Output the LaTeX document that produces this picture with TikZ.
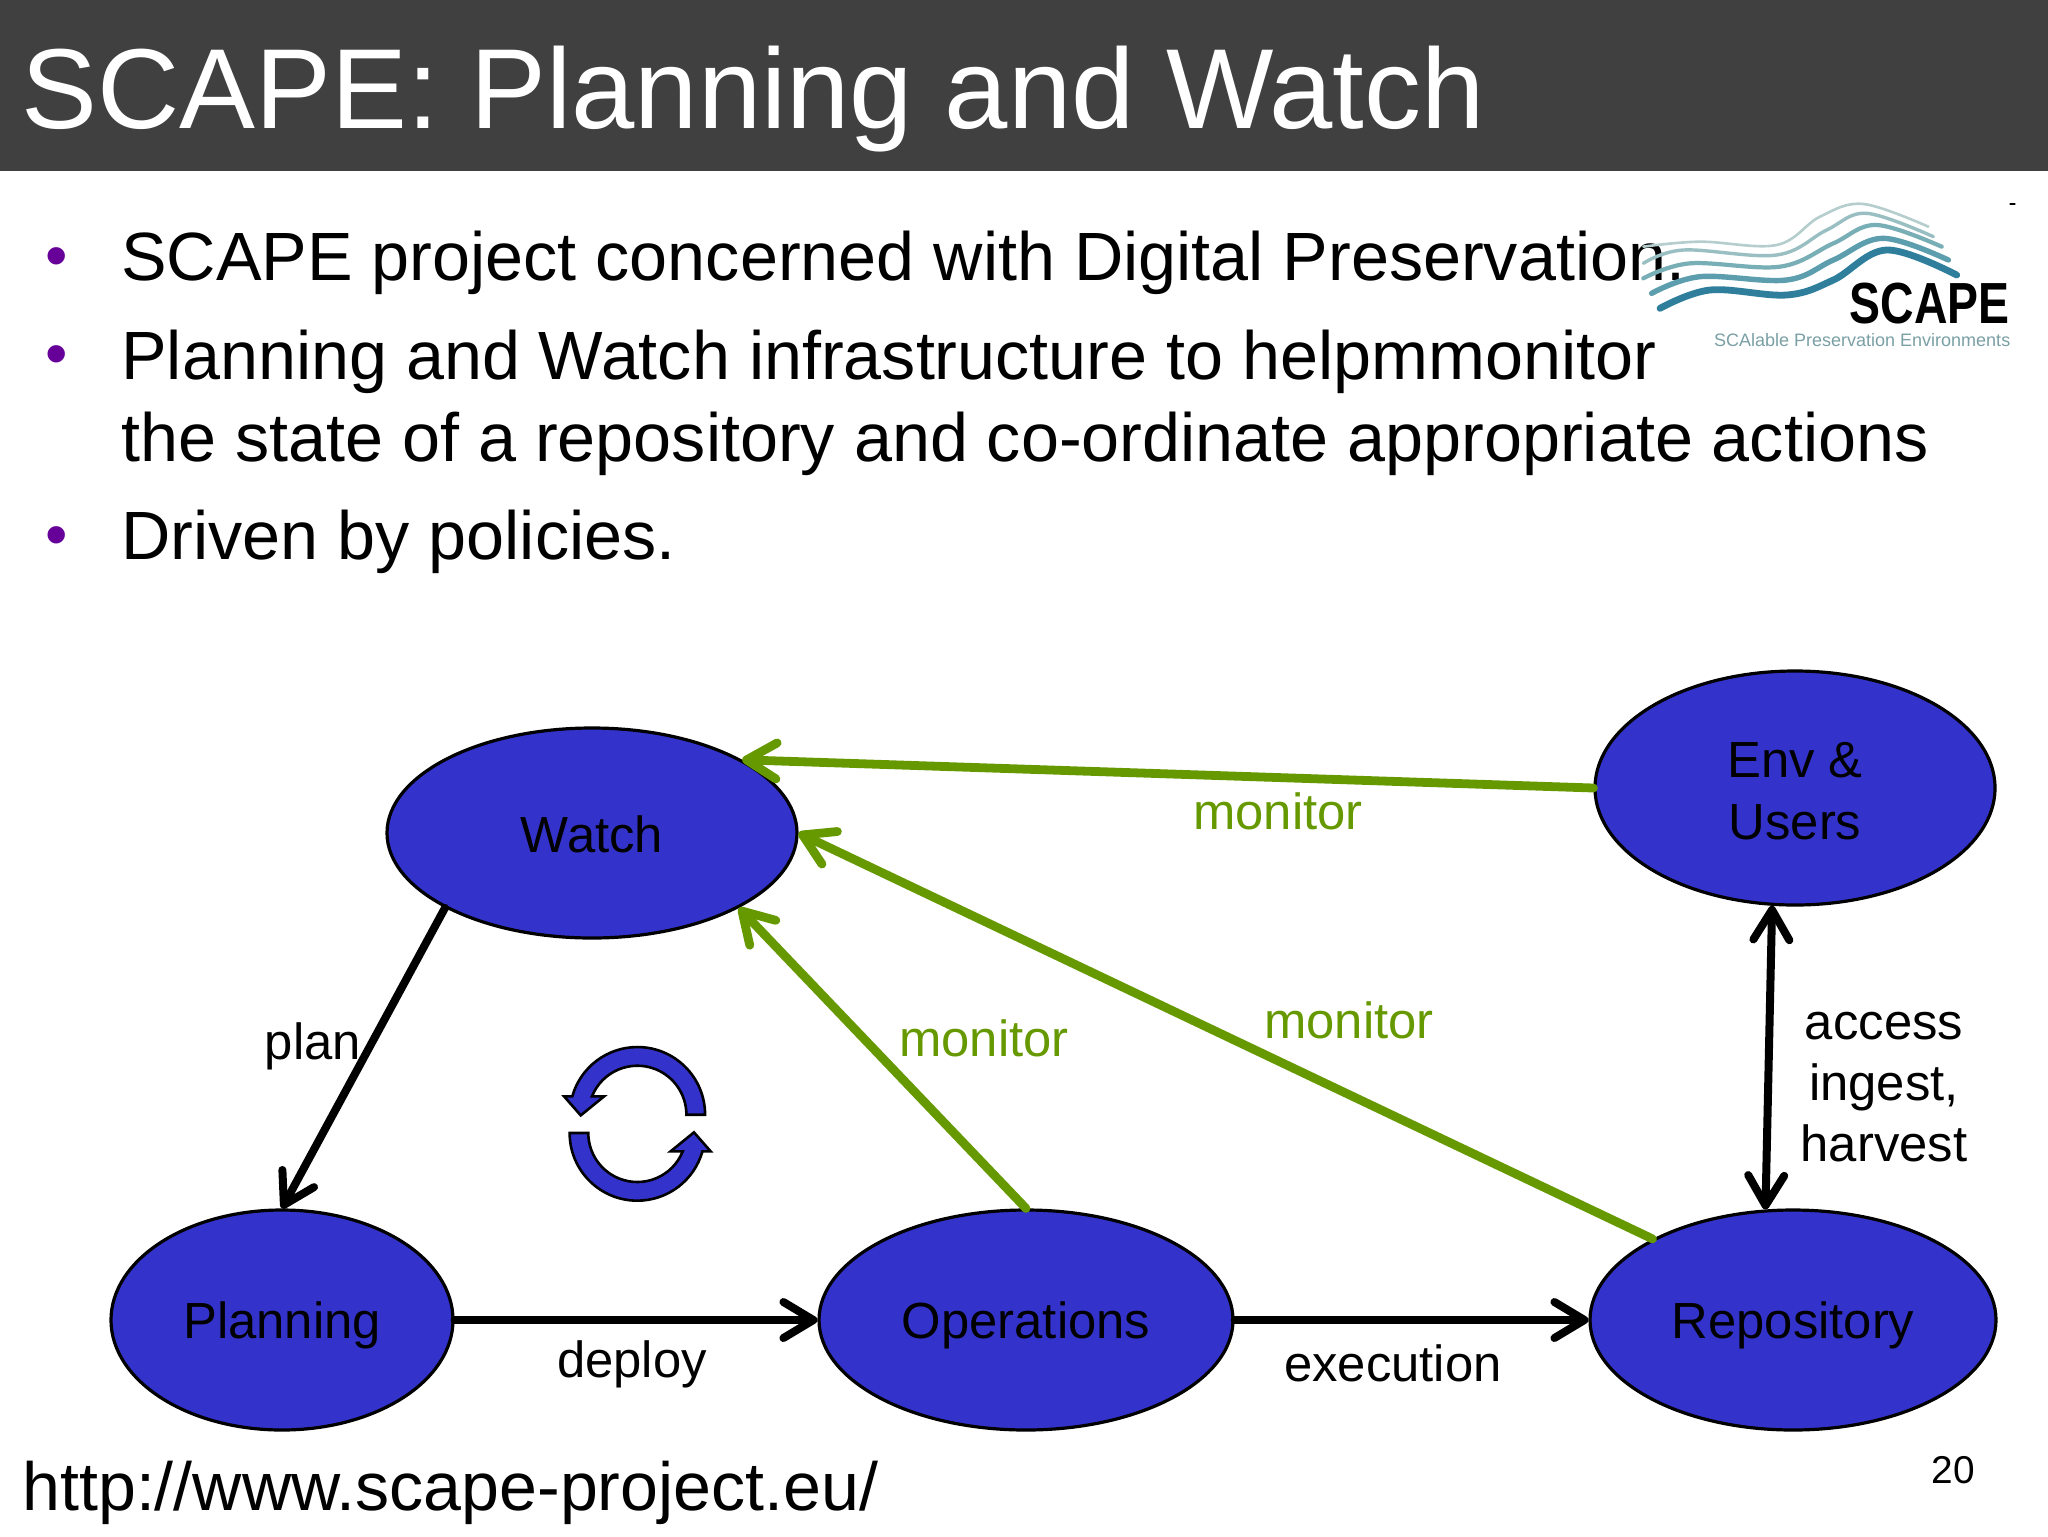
\documentclass[tikz,border=0pt]{standalone}
\usepackage{fontspec}
\setmainfont{Liberation Sans}
\usetikzlibrary{shapes.geometric,arrows.meta}
\definecolor{barcol}{HTML}{404040}
\definecolor{blobcol}{HTML}{3333CC}
\definecolor{greencol}{HTML}{669900}
\definecolor{bulletcol}{HTML}{660099}
\definecolor{wavea}{HTML}{2F7F9C}
\definecolor{waveb}{HTML}{5C9DAE}
\definecolor{wavec}{HTML}{78AEB5}
\definecolor{waved}{HTML}{9ABFC2}
\definecolor{wavee}{HTML}{B5CDCD}
\tikzset{
  barb/.tip={Straight Barb[length=15pt,width=18pt,round]},
  blob/.style={ellipse,draw=black,line width=1.6pt,fill=blobcol,inner sep=0pt,align=center,font=\fontsize{25.4}{30.7}\selectfont},
  bodytext/.style={anchor=base west,inner sep=0pt,font=\fontsize{34.15}{41}\selectfont},
  bulletdot/.style={anchor=center,inner sep=0pt,text=bulletcol,font=\fontsize{32}{36}\selectfont},
  blacklink/.style={line width=4pt,draw=black,line cap=round},
  greenlink/.style={line width=4.4pt,draw=greencol,line cap=round},
  lab/.style={anchor=center,inner sep=0pt,align=center,font=\fontsize{25.4}{30.7}\selectfont},
  greenlab/.style={lab,text=greencol},
  arrowshape/.style={draw=black,line width=1.3pt,fill=blobcol,line join=miter},
}
\begin{document}
\begin{tikzpicture}[x=0.5pt,y=-0.5pt]
\useasboundingbox (0,0) rectangle (2048,1536);
\fill[white] (0,0) rectangle (2048,1536);
\fill[barcol] (0,0) rectangle (2048,171);
\node[anchor=base west,inner sep=0pt,text=white,font=\fontsize{56.9}{60}\selectfont] (title) at (21,128) {SCAPE: Planning and Watch};

% bullets
\node[bulletdot] (b1) at (57,263) {•};
\node[bulletdot] (b2) at (57,361) {•};
\node[bulletdot] (b3) at (57,542) {•};
\node[bodytext] (t1) at (121,280) {SCAPE project concerned with Digital Preservation.};
\node[bodytext] (t2) at (121,379) {Planning and Watch infrastructure to helpmmonitor};
\node[bodytext] (t3) at (121,461) {the state of a repository and co-ordinate appropriate actions};
\node[bodytext] (t4) at (121,559) {Driven by policies.};

% logo
\begin{scope}[shift={(1600,180)},x=0.16667pt,y=-0.16667pt,line cap=round]
\draw[wavee,line width=1.3pt] plot[smooth,tension=.6] coordinates {(130,200)(300,185)(530,195)(660,110)(790,72)(985,140)};
\draw[waved,line width=1.7pt] plot[smooth,tension=.6] coordinates {(130,250)(250,210)(530,225)(680,150)(800,100)(1000,170)};
\draw[wavec,line width=2.1pt] plot[smooth,tension=.6] coordinates {(130,295)(270,250)(540,260)(700,190)(830,135)(1025,200)};
\draw[waveb,line width=2.7pt] plot[smooth,tension=.6] coordinates {(155,340)(300,290)(560,300)(700,240)(850,175)(1045,240)};
\draw[wavea,line width=3.4pt] plot[smooth,tension=.6] coordinates {(180,385)(330,330)(560,345)(700,300)(860,210)(1070,285)};
\draw[black,line width=.6pt] (1230,72) -- (1245,72);
\node[anchor=base east,inner sep=0pt,xscale=.8,font=\bfseries\fontsize{29}{29}\selectfont] (logoname) at (1230,430) {SCAPE};
\node[anchor=base east,inner sep=0pt,text=wavec!70!gray,font=\fontsize{9}{10}\selectfont] (logosub) at (1232,500) {SCAlable Preservation Environments};
\end{scope}

% nodes
\node[blob,minimum width=205pt,minimum height=105pt] (watch) at (592,833) {\rule{0pt}{19.4pt}Watch};
\node[blob,minimum width=200pt,minimum height=117pt] (env) at (1795,788) {\rule{0pt}{20.6pt}Env \&\\Users};
\node[blob,text depth=0pt,minimum width=171pt,minimum height=110pt] (planning) at (282,1320) {Planning};
\node[blob,text depth=0pt,minimum width=207pt,minimum height=110pt] (operations) at (1026,1320) {Operations};
\node[blob,text depth=0pt,minimum width=203pt,minimum height=110pt] (repository) at (1793,1320) {Repository};

% connectors
\draw[blacklink,-{barb}] (watch.207.6) -- (planning.north);
\draw[blacklink,-{barb}] (planning.east) -- (operations.west);
\draw[blacklink,-{barb}] (operations.east) -- (repository.west);
\draw[blacklink,{barb}-{barb}] (env.259) -- (repository.104.2);
\draw[greenlink,-{barb}] (env.west) -- (watch.26.8);
\draw[greenlink,-{barb}] (operations.north) -- (watch.-27.6);
\draw[greenlink,-{barb}] (repository.150.4) -- (watch.east);

% labels
\node[greenlab] (m1) at (1278,811) {monitor};
\node[greenlab] (m2) at (984,1038) {monitor};
\node[greenlab] (m3) at (1349,1020) {monitor};
\node[lab] (plan) at (313,1046) {plan};
\node[lab] (deploy) at (632,1364) {deploy};
\node[lab] (execution) at (1393,1363) {execution};
\node[lab] (access) at (1884,1087) {access\\ingest,\\harvest};

% cycle arrows
\begin{scope}[shift={(637.4,1114.7)},x=0.16667pt,y=0.16667pt]
\draw[arrowshape] (0:203) arc[start angle=0,end angle=164.3,radius=203] -- (-220,55) -- (-170,-2) -- (-100,55) -- (158:147) arc[start angle=158,end angle=0,radius=147] -- cycle;
\end{scope}
\begin{scope}[shift={(637.3,1133)},x=0.16667pt,y=0.16667pt,rotate=180]
\draw[arrowshape] (0:203) arc[start angle=0,end angle=164.3,radius=203] -- (-220,55) -- (-170,-2) -- (-100,55) -- (158:147) arc[start angle=158,end angle=0,radius=147] -- cycle;
\end{scope}

\node[anchor=base west,inner sep=0pt,font=\fontsize{34.06}{40}\selectfont] (url) at (22,1510) {http://www.scape-project.eu/};
\node[anchor=center,inner sep=0pt,font=\fontsize{19.4}{23}\selectfont] (page) at (1953,1470) {20};
\end{tikzpicture}
\end{document}
